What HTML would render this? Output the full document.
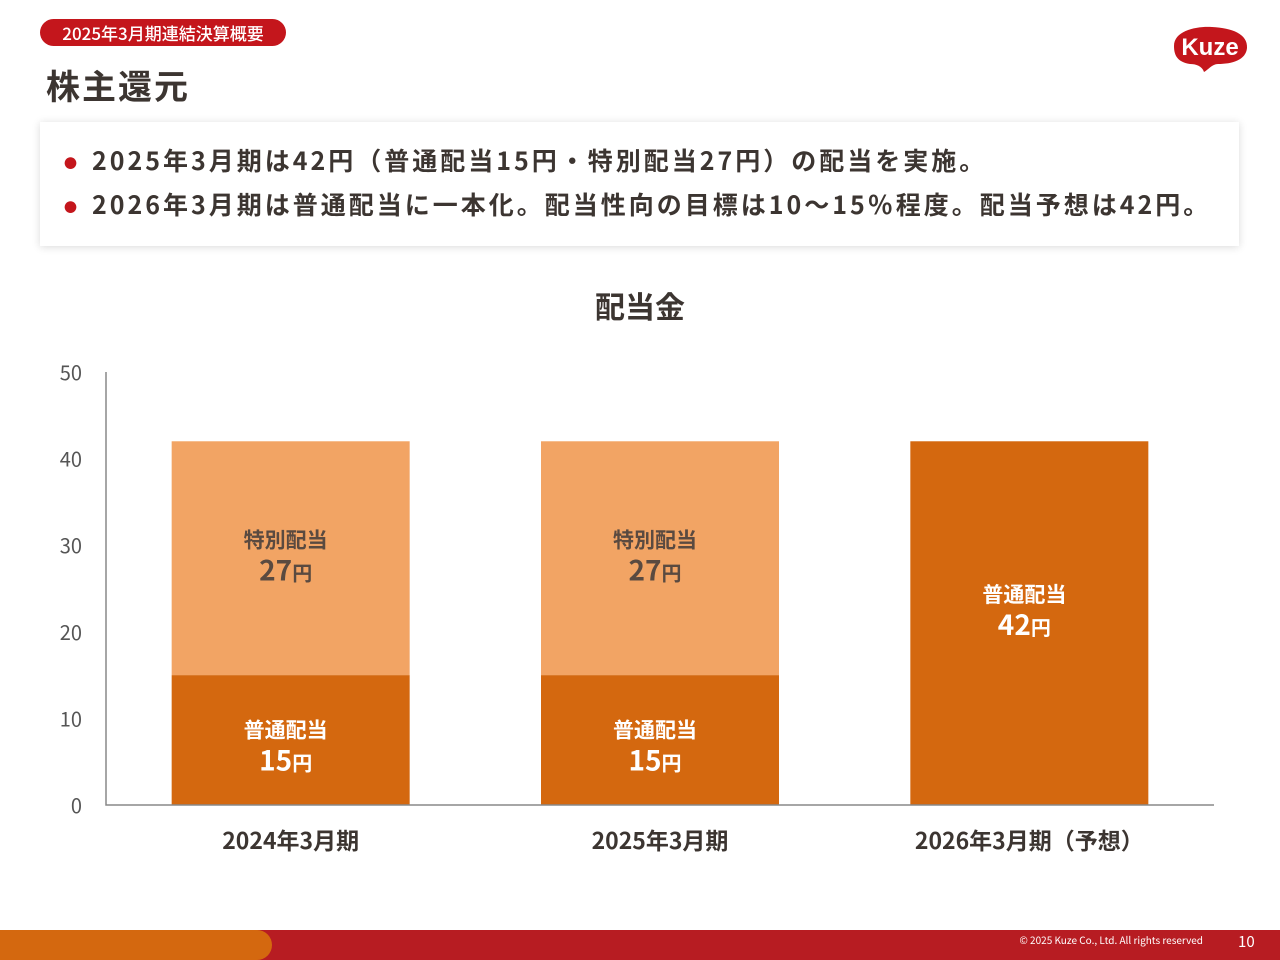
<!DOCTYPE html>
<html><head><meta charset="utf-8"><style>
body{margin:0;width:1280px;height:960px;position:relative;background:#fff;font-family:"Noto Sans CJK JP","Liberation Sans",sans-serif;overflow:hidden;color:#3c3531}
.badge{position:absolute;left:40px;top:19px;width:246px;height:27px;background:#c4161c;border-radius:14px;color:#fff;font-size:17px;line-height:27px;text-align:center;font-weight:500}
h1{position:absolute;left:46px;top:60px;margin:0;font-size:34px;line-height:50px;font-weight:700;color:#3c3531;letter-spacing:2px}
.box{position:absolute;left:40px;top:122px;width:1199px;height:124px;background:#fff;box-shadow:0 1px 8px rgba(0,0,0,.15)}
.box p{margin:0;position:absolute;left:24px;font-size:25px;line-height:36px;font-weight:700;color:#3c3531;white-space:nowrap;letter-spacing:3px}
.box p span{color:#c4161c;font-size:13px;margin-right:12px;vertical-align:2px}
.footer{position:absolute;left:0;top:930px;width:1280px;height:30px;background:#b71c22}
.or{position:absolute;left:0;top:930px;width:272px;height:30px;background:#d4680f;border-radius:0 15px 15px 0}
.copy{position:absolute;right:77px;top:932px;font-size:10px;color:#fff}
.pg{position:absolute;left:1238px;top:931px;font-size:15px;color:#fff}
</style></head><body>
<div class="badge">2025年3月期連結決算概要</div>
<h1>株主還元</h1>
<svg style="position:absolute;left:1168px;top:24px" width="82" height="50"><path d="M6 22 C6 6 30 2 44 3 C64 4 80 10 79 24 C78 36 64 40 50 40 C44 40 40 46 36 48 C34 42 28 40 22 40 C10 38 6 32 6 22Z" fill="#c4161c"/><text x="42" y="31" fill="#fff" font-size="24" font-weight="700" text-anchor="middle" font-family="Liberation Sans,sans-serif">Kuze</text></svg>
<div class="box">
<p style="top:20px"><span>●</span>2025年3月期は42円（普通配当15円・特別配当27円）の配当を実施。</p>
<p style="top:64px"><span>●</span>2026年3月期は普通配当に一本化。配当性向の目標は10～15％程度。配当予想は42円。</p>
</div>
<svg id="chart" style="position:absolute;left:0;top:0" width="1280" height="930"></svg>
<div class="footer"></div>
<div class="or"></div>
<div class="copy">© 2025 Kuze Co., Ltd. All rights reserved</div>
<div class="pg">10</div>
<script>
const categories=["2024年3月期","2025年3月期","2026年3月期（予想）"];
const regular=[15,15,42];
const special=[27,27,0];
const yTicks=[0,10,20,30,40,50];
const NS="http://www.w3.org/2000/svg";
const svg=document.getElementById('chart');
const x0=106,x1=1214,y0=805,y1=372,yMax=50;
const slot=(x1-x0)/categories.length,bw=238;
const y=v=>y0-(v/yMax)*(y0-y1);
const cx=i=>x0+slot*(i+0.5);
function mk(tag,attrs,txt){const e=document.createElementNS(NS,tag);for(const k in attrs)e.setAttribute(k,attrs[k]);if(txt!==undefined)e.textContent=txt;svg.appendChild(e);return e;}
let t=mk('text',{x:640,y:318,'text-anchor':'middle','font-size':30,'font-weight':700,fill:'#3c3531'},'配当金');


yTicks.forEach(v=>{const e=mk('text',{x:82,y:y(v)+8,'text-anchor':'end','font-size':20,fill:'#555'},v);

});
function label(i,top,bottom,name,col){const hgt=y(bottom)-y(top);const mid=(y(top)+y(bottom))/2-0.08*hgt+10;
const g=document.createElementNS(NS,'text');g.setAttribute('x',cx(i)-5);g.setAttribute('y',mid-2);g.setAttribute('text-anchor','middle');g.setAttribute('font-size',21);g.setAttribute('font-weight',700);g.setAttribute('fill',col);g.textContent=name;svg.appendChild(g);


const h=document.createElementNS(NS,'text');h.setAttribute('x',cx(i)-5);h.setAttribute('y',mid+31);h.setAttribute('text-anchor','middle');h.setAttribute('font-weight',700);h.setAttribute('fill',col);
h.innerHTML='<tspan font-size="28">'+(top-bottom)+'</tspan><tspan font-size="20">円</tspan>';svg.appendChild(h);

}
categories.forEach((c,i)=>{
const r=mk('rect',{x:cx(i)-bw/2,y:y(regular[i]),width:bw,height:y0-y(regular[i]),fill:'#d4680f'});


label(i,regular[i],0,'普通配当','#fff');
if(special[i]>0){const s=mk('rect',{x:cx(i)-bw/2,y:y(regular[i]+special[i]),width:bw,height:y(regular[i])-y(regular[i]+special[i]),fill:'#f2a464'});


label(i,regular[i]+special[i],regular[i],'特別配当','#5a4a40');}
const l=mk('text',{x:cx(i),y:849,'text-anchor':'middle','font-size':23,'font-weight':700,fill:'#3c3531'},c);


});
const ax=mk('path',{d:`M${x0} ${y1}V${y0}H${x1}`,stroke:'#888',fill:'none','stroke-width':1.5});


</script>
</body></html>
